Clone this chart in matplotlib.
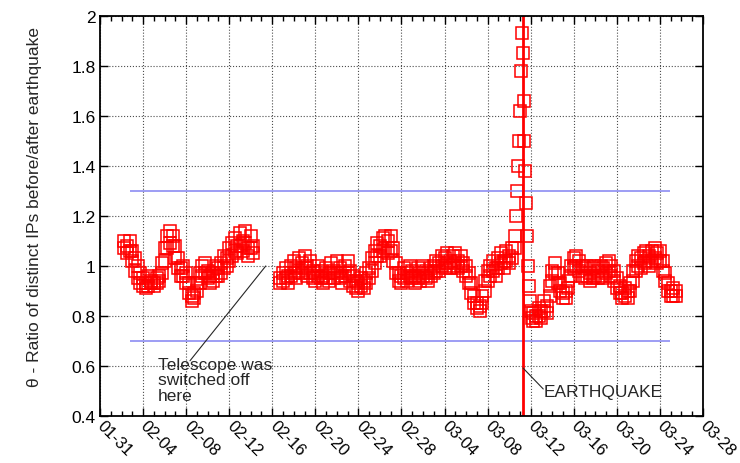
import matplotlib
matplotlib.use('Agg')
import matplotlib.pyplot as plt
import matplotlib.dates as mdates
import pandas as pd

plt.rcParams['font.family'] = ['Liberation Sans', 'DejaVu Sans']

# theta values, one segment per run of the telescope
# (upper and lower edge of the band of hourly squares, every 6 hours)
seg1_start = '2011-02-02 06:00'
seg1_hi = [1.10, 1.08, 1.10, 1.06, 1.03, 1.00, 0.97,
           0.95, 0.93, 0.96, 0.94, 0.93, 0.95, 0.96,
           1.01, 1.07, 1.12, 1.14, 1.12, 1.08, 1.03,
           0.99, 1.00, 0.97, 0.93, 0.88, 0.89, 0.93,
           0.97, 1.00, 1.01, 0.98, 0.96, 0.97, 1.00,
           0.99, 1.01, 1.04, 1.03, 1.07, 1.09, 1.11,
           1.08, 1.13, 1.10, 1.14, 1.07, 1.12, 1.08]
seg1_lo = [1.07, 1.05, 1.06, 1.02, 0.98, 0.95, 0.93,
           0.92, 0.91, 0.92, 0.93, 0.92, 0.93, 0.94,
           0.97, 1.02, 1.07, 1.09, 1.08, 1.03, 0.99,
           0.96, 0.96, 0.93, 0.89, 0.86, 0.87, 0.90,
           0.93, 0.96, 0.97, 0.95, 0.93, 0.94, 0.96,
           0.96, 0.97, 0.99, 1.00, 1.02, 1.04, 1.06,
           1.05, 1.08, 1.06, 1.09, 1.04, 1.07, 1.05]

seg2_start = '2011-02-16 18:00'
seg2_hi = [0.95,
           0.97, 0.99, 0.96, 1.00,
           1.02, 0.99, 1.03, 1.01,
           1.04, 1.00, 1.02, 0.98,
           0.97, 1.00, 0.98, 0.96,
           0.99, 0.97, 1.01, 0.98,
           1.02, 0.99, 0.96, 1.00,
           1.02, 0.98, 0.96, 0.94,
           0.93, 0.95, 0.94, 0.97,
           0.99, 1.03, 1.06, 1.09,
           1.08, 1.11, 1.12, 1.10,
           1.12, 1.07, 1.01, 0.97,
           0.96, 0.99, 0.97, 1.00,
           0.98, 0.96, 0.99, 0.97,
           1.00, 0.98, 0.97, 0.99,
           1.00, 1.02, 1.01, 1.04,
           1.03, 1.05, 1.02, 1.04,
           1.05, 1.02, 1.04, 1.01,
           1.00, 0.97, 0.93, 0.88,
           0.85, 0.84, 0.88, 0.94,
           0.98, 1.00, 1.02, 0.99,
           1.03, 1.05, 1.02, 1.06,
           1.04, 1.07]
seg2_lo = [0.93,
           0.94, 0.95, 0.93, 0.96,
           0.97, 0.95, 0.98, 0.97,
           0.99, 0.96, 0.97, 0.95,
           0.94, 0.96, 0.95, 0.93,
           0.95, 0.94, 0.97, 0.95,
           0.97, 0.95, 0.93, 0.96,
           0.97, 0.94, 0.92, 0.91,
           0.90, 0.92, 0.91, 0.93,
           0.95, 0.98, 1.01, 1.04,
           1.04, 1.06, 1.07, 1.05,
           1.06, 1.02, 0.97, 0.94,
           0.93, 0.95, 0.94, 0.96,
           0.95, 0.93, 0.95, 0.94,
           0.96, 0.95, 0.94, 0.96,
           0.97, 0.98, 0.98, 1.00,
           0.99, 1.01, 0.99, 1.00,
           1.01, 0.99, 1.00, 0.98,
           0.96, 0.93, 0.89, 0.85,
           0.83, 0.82, 0.85, 0.90,
           0.94, 0.96, 0.98, 0.96,
           0.99, 1.01, 0.99, 1.02,
           1.01, 1.03]

spike_start = '2011-03-10 12:00'
spike_vals = [1.07, 1.12, 1.20, 1.30, 1.40, 1.50, 1.62, 1.78, 1.93,
              1.85, 1.66, 1.50, 1.38, 1.25, 1.12, 1.00, 0.92, 0.86,
              0.82, 0.79, 0.78, 0.81]

seg3_start = '2011-03-12 12:00'
seg3_hi = [0.80, 0.83, 0.82, 0.86, 0.84, 0.92, 0.98, 1.01,
           0.97, 0.93, 0.89, 0.90, 0.94, 1.00, 1.03, 1.04,
           1.02, 1.00, 0.99, 1.00, 0.97, 0.99, 1.00, 0.98,
           1.00, 0.99, 1.01, 1.02, 1.00, 0.98, 0.95, 0.92,
           0.89, 0.91, 0.90, 0.93, 0.98, 1.02, 1.04, 1.03,
           1.05, 1.06, 1.04, 1.06, 1.07, 1.05, 1.06, 1.02,
           0.97, 0.93, 0.90, 0.91, 0.90]
seg3_lo = [0.78, 0.80, 0.79, 0.82, 0.81, 0.88, 0.94, 0.97,
           0.93, 0.90, 0.87, 0.87, 0.91, 0.96, 0.99, 1.00,
           0.98, 0.96, 0.95, 0.96, 0.94, 0.95, 0.96, 0.95,
           0.96, 0.95, 0.97, 0.98, 0.96, 0.94, 0.91, 0.89,
           0.87, 0.88, 0.87, 0.90, 0.94, 0.98, 1.00, 0.99,
           1.01, 1.02, 1.00, 1.02, 1.03, 1.01, 1.02, 0.98,
           0.94, 0.90, 0.88, 0.88, 0.88]

quake_time = '2011-03-11 05:46'
thresholds = [1.3, 0.7]
thr_span = ['2011-02-02 19:00', '2011-03-24 22:00']

t1 = pd.date_range(seg1_start, periods=len(seg1_hi), freq='6h')
t2 = pd.date_range(seg2_start, periods=len(seg2_hi), freq='6h')
t3 = pd.date_range(spike_start, periods=len(spike_vals), freq='2h')
t4 = pd.date_range(seg3_start, periods=len(seg3_hi), freq='6h')

fig = plt.figure(figsize=(7.4, 4.64), dpi=100)
ax = fig.add_axes([0.1351, 0.1013, 0.8149, 0.8621])

ax.grid(True, which='major', linestyle=':', color='0.3', linewidth=0.8)
ax.set_axisbelow(True)

mk = dict(marker='s', markersize=8.5, markerfacecolor='none',
          markeredgecolor='#ff0000', markeredgewidth=1.1, linestyle='none')
series = [(t1, seg1_hi), (t1, seg1_lo), (t2, seg2_hi), (t2, seg2_lo),
          (t3, spike_vals), (t4, seg3_hi), (t4, seg3_lo)]
for t, v in series:
    ax.plot(t, v, **mk)

ax.hlines(thresholds, pd.Timestamp(thr_span[0]), pd.Timestamp(thr_span[1]),
          colors='#8c8cf2', linewidth=1.2)
ax.axvline(pd.Timestamp(quake_time), color='#ff0000', linewidth=2)

ax.set_xlim(pd.Timestamp('2011-01-31'), pd.Timestamp('2011-03-28'))
ax.set_ylim(0.4, 2.0)
ax.set_yticks([0.4, 0.6, 0.8, 1.0, 1.2, 1.4, 1.6, 1.8, 2.0])
ax.set_yticklabels(['0.4', '0.6', '0.8', '1', '1.2', '1.4', '1.6', '1.8', '2'])
ax.set_xticks(pd.date_range('2011-01-31', '2011-03-28', freq='4D'))
ax.xaxis.set_minor_locator(mdates.DayLocator())
ax.xaxis.set_major_formatter(mdates.DateFormatter('%m-%d'))

ax.tick_params(which='both', direction='in', top=True, right=True, labelsize=12.5)
ax.tick_params(which='major', length=6, width=1)
ax.tick_params(which='minor', length=3.5, width=1)
ax.tick_params(axis='x', pad=5)
ax.tick_params(axis='y', pad=3)
for lab in ax.get_xticklabels():
    lab.set_rotation(-45)
    lab.set_rotation_mode('anchor')
    lab.set_ha('left')
    lab.set_va('center')
    lab.set_fontsize(12)
for s in ax.spines.values():
    s.set_linewidth(1.3)

ax.set_ylabel('θ - Ratio of distinct IPs before/after earthquake', fontsize=12.5, color='0.15')
ax.yaxis.set_label_coords(-0.096, 0.525)

# annotations
ax.annotate('', xy=(pd.Timestamp('2011-02-15 09:30'), 1.0),
            xytext=(pd.Timestamp('2011-02-08 08:40'), 0.621),
            arrowprops=dict(arrowstyle='-', color='0.15', lw=0.8, shrinkA=0, shrinkB=0))
ax.text(pd.Timestamp('2011-02-05 09:00'), 0.635, 'Telescope was\nswitched off\nhere',
        fontsize=12.5, va='top', ha='left', linespacing=1.02, color='0.15')
ax.annotate('', xy=(pd.Timestamp('2011-03-11 06:45'), 0.592),
            xytext=(pd.Timestamp('2011-03-13 04:00'), 0.508),
            arrowprops=dict(arrowstyle='-', color='0.15', lw=0.8, shrinkA=0, shrinkB=0))
ax.text(pd.Timestamp('2011-03-13 05:00'), 0.496, 'EARTHQUAKE',
        fontsize=12.5, va='center', ha='left', color='0.15')

fig.savefig('out.png', dpi=100)
